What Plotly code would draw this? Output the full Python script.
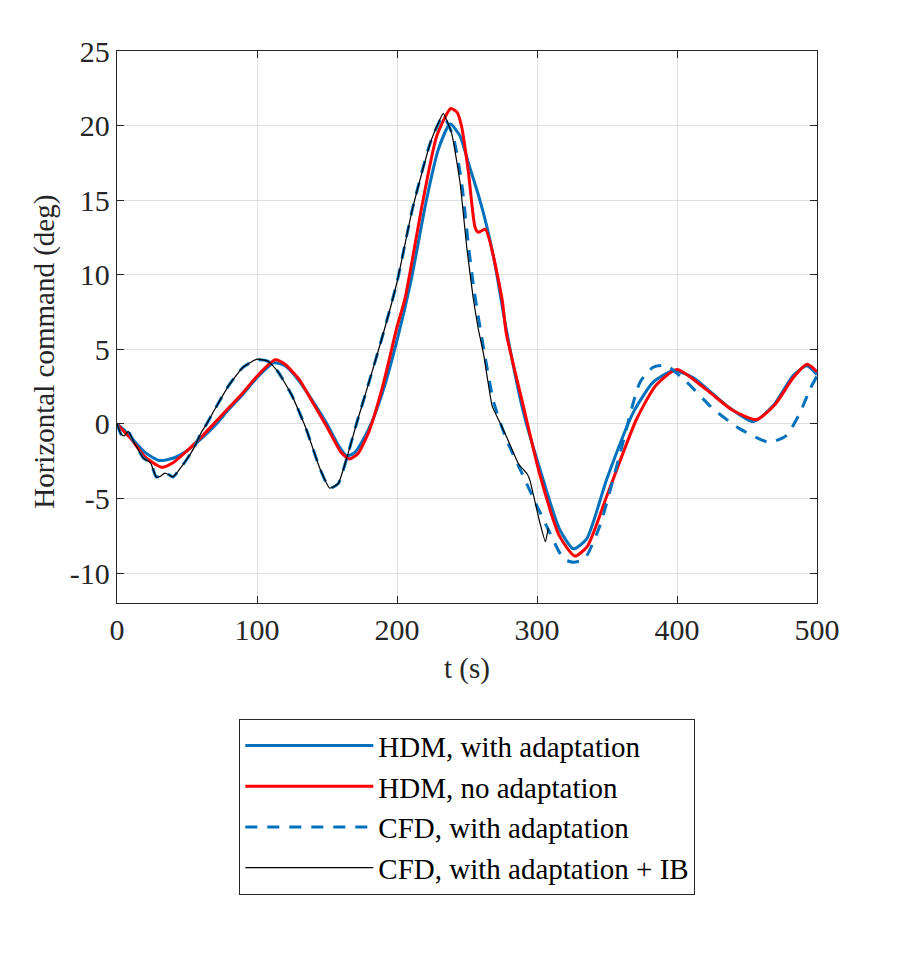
import plotly.graph_objects as go

# HDM, with adaptation
t_hdm_ad = [0, 5, 10, 20, 30, 40, 50, 60, 70, 80, 90, 100, 112, 120, 130, 140, 150, 158, 164, 170,
            180, 190, 200, 210, 221, 229.5, 238, 245, 251, 256, 259, 264, 270, 278, 290, 302, 316, 326,
            335.5, 349.8, 368.8, 383, 397.4, 411.7, 435.5, 454.5, 468.8, 483, 492.6, 500]
v_hdm_ad = [0, -0.4, -0.9, -1.9, -2.45, -2.3, -1.8, -1.0, -0.1, 1.0, 2.0, 3.1, 4.1, 3.9, 2.9, 1.5, 0,
            -1.4, -2.15, -1.9, -0.3, 2.2, 5.6, 9.6, 15.0, 18.4, 20.1, 19.3, 17.5, 16.0, 15.07, 13.3, 10.7,
            6.36, 0.9, -3.0, -7.03, -8.37, -7.7, -3.7, 0.78, 2.8, 3.57, 3.1, 1.23, 0.16, 1.23, 3.24, 3.9, 3.3]

# HDM, no adaptation
t_hdm_no = [0, 5, 10, 20, 32, 40, 50, 60, 70, 80, 90, 100, 113, 120, 130, 140, 150, 160, 166, 172,
            180, 190, 200, 205.7, 218.8, 228.4, 238.4, 242.8, 246, 251, 255.7, 258, 263, 275, 278, 290,
            302, 316, 327, 336, 350, 371, 385, 400, 421, 440, 457, 470, 483, 493, 500]
v_hdm_no = [0, -0.5, -1.0, -2.2, -2.9, -2.6, -1.8, -0.9, 0.1, 1.1, 2.1, 3.2, 4.3, 4.0, 3.0, 1.4, -0.2,
            -1.9, -2.35, -2.0, -0.5, 2.6, 6.5, 8.4, 15.1, 19.3, 21.15, 20.9, 20.0, 16.9, 13.2, 12.85, 13.05,
            8.4, 6.1, 1.3, -3.4, -7.5, -8.85, -8.2, -4.8, 0.3, 2.6, 3.65, 2.3, 0.9, 0.3, 1.3, 3.1, 4.0, 3.5]

# CFD, with adaptation
t_cfd_ad = [0, 3, 5, 8, 12, 19, 24, 28, 31, 34, 37, 40, 45, 50, 55, 60, 64, 70, 80, 90, 100, 108, 115,
            125, 135, 145, 152, 158, 165, 171, 180, 190, 200, 211, 224, 233, 240, 246, 251, 255, 262, 269,
            278, 290, 300, 309, 319, 326, 334, 345, 359, 373.6, 383, 392.6, 407, 426, 445, 466, 478, 488,
            495, 500]
v_cfd_ad = [0, -0.7, -0.8, -0.5, -1.2, -2.3, -2.6, -3.55, -3.5, -3.3, -3.4, -3.55, -3.0, -2.35, -1.6,
            -0.6, 0, 1.0, 2.6, 3.8, 4.3, 4.2, 3.5, 1.9, -0.3, -3.0, -4.3, -4.0, -2.0, 0, 2.8, 6.0, 9.5,
            14.4, 18.9, 20.6, 19.3, 16.3, 12.0, 9.0, 5.0, 1.5, -1.0, -3.46, -5.5, -7.26, -9.04, -9.27,
            -9.04, -6.8, -2.1, 2.8, 3.8, 3.9, 2.8, 1.0, -0.33, -1.23, -0.78, 0.78, 2.34, 3.2]

# CFD, with adaptation + IB
t_cfd_ib = [0, 3, 5, 8, 12, 19, 24, 28, 31, 34, 37, 40, 45, 50, 55, 60, 64, 70, 80, 90, 100, 108, 115,
            125, 135, 145, 152, 158, 165, 171, 180, 190, 200, 211, 224, 233, 239, 245, 250, 254.5, 258,
            262, 268, 274, 278, 287, 293, 295, 302, 306, 308]
v_cfd_ib = [0, -0.7, -0.8, -0.5, -1.2, -2.3, -2.6, -3.55, -3.5, -3.3, -3.4, -3.55, -3.0, -2.35, -1.6,
            -0.6, 0, 1.0, 2.6, 3.8, 4.35, 4.2, 3.5, 1.9, -0.3, -3.0, -4.3, -4.0, -2.0, 0, 2.8, 6.0, 9.5,
            14.4, 18.9, 20.8, 19.5, 16.2, 11.7, 8.4, 6.4, 4.6, 1.2, 0, -0.8, -2.7, -3.35, -3.8, -6.6,
            -7.9, -7.0]

x_ticks = [0, 100, 200, 300, 400, 500]
y_ticks = [-10, -5, 0, 5, 10, 15, 20, 25]
y_ticktext = ["-10", "-5", "0", "5", "10", "15", "20", "25"]

FONT = "Times New Roman, Liberation Serif, serif"
BLUE = "#0072BD"
RED = "#FF0000"
INK = "#262626"

fig = go.Figure()
fig.add_trace(go.Scatter(x=t_hdm_ad, y=v_hdm_ad, mode="lines", name="HDM, with adaptation",
                         line=dict(color=BLUE, width=3, shape="spline", smoothing=0.6)))
fig.add_trace(go.Scatter(x=t_hdm_no, y=v_hdm_no, mode="lines", name="HDM, no adaptation",
                         line=dict(color=RED, width=3, shape="spline", smoothing=0.6)))
fig.add_trace(go.Scatter(x=t_cfd_ad, y=v_cfd_ad, mode="lines", name="CFD, with adaptation",
                         line=dict(color=BLUE, width=3, dash="12px,10px", shape="spline", smoothing=0.6)))
fig.add_trace(go.Scatter(x=t_cfd_ib, y=v_cfd_ib, mode="lines", name="CFD, with adaptation + IB",
                         line=dict(color="black", width=1.2, shape="spline", smoothing=0.4)))

axis_style = dict(
    showline=True, linecolor=INK, linewidth=1.3, mirror="ticks",
    ticks="inside", ticklen=7, tickcolor=INK, tickwidth=1.3,
    showgrid=True, gridcolor="#DFDFDF", gridwidth=1, zeroline=False,
    tickfont=dict(family=FONT, size=30, color=INK),
)

fig.update_xaxes(range=[0, 500], tickvals=x_ticks, **axis_style)
fig.update_yaxes(range=[-12, 25], tickvals=y_ticks, ticktext=y_ticktext, **axis_style)

# page body adds 8px, margins compensate so the axes land where they should
fig.update_layout(
    width=902, height=965,
    margin=dict(l=109, r=93, t=43, b=370),
    plot_bgcolor="white", paper_bgcolor="white",
    font=dict(family=FONT, color="black"),
    legend=dict(
        x=0.5, xanchor="center", y=-0.21, yanchor="top",
        bordercolor=INK, borderwidth=1.3, bgcolor="white",
        font=dict(family=FONT, size=29, color="black"),
        itemwidth=128, tracegroupgap=0,
    ),
    annotations=[
        dict(text="Horizontal command (deg)", x=-0.103, y=0.455, xref="paper", yref="paper",
             textangle=-90, showarrow=False, font=dict(family=FONT, size=29, color=INK),
             xanchor="center", yanchor="middle"),
        dict(text="t (s)", x=0.5, y=-0.118, xref="paper", yref="paper",
             showarrow=False, font=dict(family=FONT, size=29, color=INK),
             xanchor="center", yanchor="middle"),
    ],
)

fig.write_html("out.html")
